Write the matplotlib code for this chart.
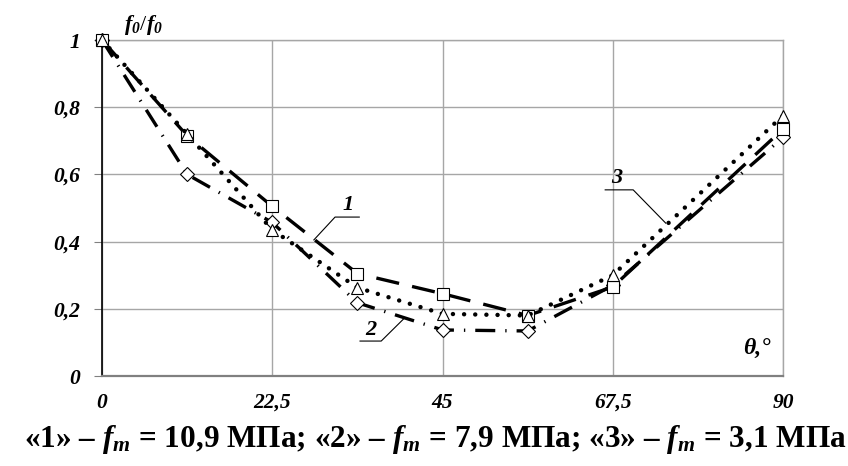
import matplotlib
matplotlib.use("Agg")
import matplotlib.pyplot as plt

plt.rcParams['font.family'] = ['Liberation Serif', 'DejaVu Serif']
plt.rcParams['mathtext.fontset'] = 'custom'
plt.rcParams['mathtext.rm'] = 'Liberation Serif'
plt.rcParams['mathtext.it'] = 'Liberation Serif:italic'
plt.rcParams['mathtext.bf'] = 'Liberation Serif:bold'
plt.rcParams['mathtext.bfit'] = 'Liberation Serif:italic:bold'

# angle, degrees
theta = [0, 11.25, 22.5, 33.75, 45, 56.25, 67.5, 90]
# f_theta / f_0 for the three series
s1 = [1.0, 0.715, 0.505, 0.305, 0.245, 0.18, 0.265, 0.735]
s2 = [1.0, 0.60, 0.457, 0.218, 0.137, 0.134, 0.27, 0.71]
s3 = [1.0, 0.72, 0.435, 0.263, 0.185, 0.18, 0.30, 0.775]

xticks = [0, 22.5, 45, 67.5, 90]
xlabels = ['0', '22,5', '45', '67,5', '90']
yticks = [0, 0.2, 0.4, 0.6, 0.8, 1.0]
ylabels = ['0', '0,2', '0,4', '0,6', '0,8', '1']

fig = plt.figure(figsize=(8.48, 4.66), dpi=100)
ax = fig.add_axes([102/848, 1-376/466, 681/848, 336/466])

mk = dict(markersize=9, markerfacecolor='white', markeredgecolor='black',
          markeredgewidth=0.8, clip_on=False, zorder=4)
ax.plot(theta, s2, color='black', lw=2.4, linestyle=(0, (6, 3, 0.4, 3)),
        marker='D', **dict(mk, markersize=7.5))
ax.plot(theta, s1, color='black', lw=2.4, linestyle=(0, (7, 4)),
        marker='s', **mk)
ax.plot(theta, s3, color='black', lw=3.2, linestyle=(0, (0.01, 2.5)),
        dash_capstyle='round', marker='^', **mk)

ax.set_xlim(0, 90)
ax.set_ylim(0, 1)
ax.set_xticks(xticks)
ax.set_xticklabels(xlabels)
ax.set_yticks(yticks)
ax.set_yticklabels(ylabels)
for lab in ax.get_xticklabels() + ax.get_yticklabels():
    lab.set_fontsize(15.5)
    lab.set_fontweight('bold')
    lab.set_fontstyle('italic')
ax.tick_params(axis='x', length=0, pad=12)
ax.tick_params(axis='y', direction='out', length=6, width=0.8, color='#808080', pad=10)
ax.grid(True, color='#a6a6a6', lw=1)
ax.set_axisbelow(True)
for s in ['top', 'right']:
    ax.spines[s].set_color('#a6a6a6')
    ax.spines[s].set_linewidth(1)
ax.spines['left'].set_color('black')
ax.spines['left'].set_linewidth(1.2)
ax.spines['bottom'].set_color('#808080')
ax.spines['bottom'].set_linewidth(1.6)

# curve labels with leader lines
lead = dict(color='black', lw=0.8, clip_on=False, zorder=5)
lab = dict(fontsize=16, fontweight='bold', fontstyle='italic', ha='center', va='center')
ax.plot([28.0, 30.8, 34.0], [0.405, 0.473, 0.473], **lead)
ax.text(32.5, 0.508, '1', **lab)
ax.plot([34.1, 36.9, 40.0], [0.104, 0.104, 0.173], **lead)
ax.text(35.5, 0.136, '2', **lab)
ax.plot([66.5, 70.2, 74.5], [0.554, 0.554, 0.455], **lead)
ax.text(68.0, 0.588, '3', **lab)

ax.text(86.6, 0.083, 'θ,°', fontsize=17, fontweight='bold', fontstyle='italic', ha='center', va='center')
fig.text(144/848, 1-25/466, '$\\mathbfit{f}_{\\mathbfit{0}}/\\mathbfit{f}_{\\mathbfit{0}}$', fontsize=16,
         ha='center', va='center')

fig.text(435/848, 1-440/466,
         '«1» – $\\mathbfit{f}_{\\mathbfit{m}}$ = 10,9 МПа; «2» – $\\mathbfit{f}_{\\mathbfit{m}}$ = 7,9 МПа; '
         '«3» – $\\mathbfit{f}_{\\mathbfit{m}}$ = 3,1 МПа',
         fontsize=22.5, fontweight='bold', ha='center', va='center')

fig.savefig('out.png', dpi=100)
